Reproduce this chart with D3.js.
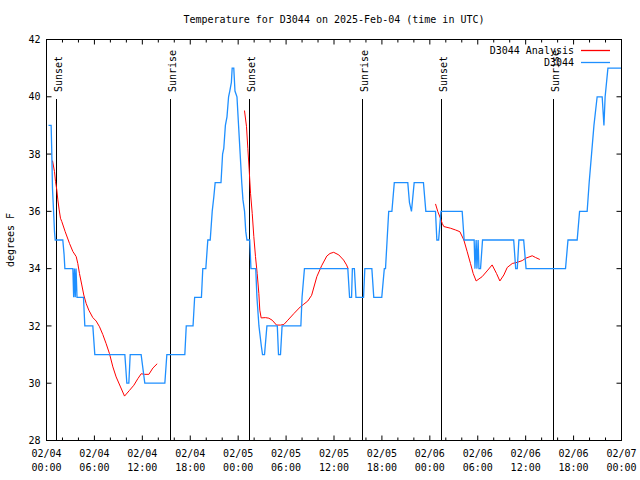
<!DOCTYPE html>
<html><head><meta charset="utf-8">
<script src="https://cdn.jsdelivr.net/npm/d3@7"></script>
<style>
html,body{margin:0;padding:0;background:#fff;}
text{font-family:"DejaVu Sans Mono","Liberation Mono",monospace;font-size:10px;fill:#000;}
</style></head>
<body><svg id="c" width="640" height="480"></svg>
<script>
// ---- data (hours since 2025-02-04 00:00 UTC) ----
const titleText = "Temperature for D3044 on 2025-Feb-04 (time in UTC)";
const yLabel = "degrees F";
const seriesNames = ["D3044 Analysis", "D3044"];
const yTicks = [28, 30, 32, 34, 36, 38, 40, 42];
const xMajorHours = [0, 6, 12, 18, 24, 30, 36, 42, 48, 54, 60, 66, 72];
const xTickDates = ["02/04","02/04","02/04","02/04","02/05","02/05","02/05","02/05","02/06","02/06","02/06","02/06","02/07"];
const xTickTimes = ["00:00","06:00","12:00","18:00","00:00","06:00","12:00","18:00","00:00","06:00","12:00","18:00","00:00"];
const sunHours = [1.29, 15.57, 25.36, 39.61, 49.42, 63.51];
const sunLabels = ["Sunset", "Sunrise", "Sunset", "Sunrise", "Sunset", "Sunrise"];

const obsHours = [0.25,0.58,0.65,0.75,0.92,1.0,1.09,2.04,2.2,2.3,3.30,3.40,3.50,3.60,3.70,3.82,4.63,4.8,5.8,6.05,9.81,10.06,10.31,10.48,11.85,12.31,14.82,15.07,17.32,17.5,18.35,18.55,19.4,19.57,19.95,20.2,20.5,20.75,20.95,21.12,21.85,22.05,22.2,22.4,22.6,22.8,22.95,23.15,23.25,23.45,23.6,23.85,24.05,24.25,24.45,24.6,24.8,24.95,25.1,25.45,25.6,26.2,26.35,26.6,26.9,27.05,27.3,27.6,28.9,29.05,29.3,29.5,31.85,32.0,32.3,37.73,37.95,38.2,38.3,38.55,38.75,39.7,39.86,40.74,40.98,41.98,42.3,42.45,42.65,42.85,43.25,43.55,45.24,45.45,45.7,46.04,47.2,47.5,48.71,48.88,49.1,49.4,52.05,52.3,53.55,53.65,53.8,53.9,54.05,54.15,54.35,54.6,58.5,58.75,58.95,59.15,59.75,60.05,64.99,65.3,66.45,66.75,67.7,67.95,68.25,68.55,68.95,69.58,69.8,69.95,70.3,72];
const obsTemps = [39,39,38.2,36.8,35.8,35.3,35,35,34.5,34,34,33,34,33,34,33,33,32,32,31,31,30,30,31,31,30,30,31,31,32,32,33,33,34,34,35,35,36,36.5,37,37,38,38.2,39,39.3,40,40.2,40.5,41,41,40.2,40,39,38,37,36.4,36,35.3,35,35,34,34,33,32,31.3,31,31,32,32,31,31,32,32,33,34,34,33,33,34,34,33,33,34,34,33,33,34,34,35,36,36,37,37,36.3,36,37,37,36,36,35,35,36,36,35,35,34,35,34,35,34,34,35,35,34,34,35,35,34,34,35,35,36,36,37,38,39,40,40,39,40,41,41];

// analysis runs, null separates runs
const anaHours = [0.75,1.0,1.13,1.29,1.42,1.59,1.75,1.92,2.34,2.88,3.3,3.72,3.92,4.13,4.42,4.67,4.97,5.3,5.8,6.22,6.64,7.05,7.47,7.89,8.31,8.72,9.27,9.77,10.39,10.94,11.44,11.86,12.27,12.82,13.32,13.86,
  null,
  24.79,25.04,25.21,25.38,25.55,25.76,25.96,26.17,26.38,26.59,26.71,26.88,27.42,27.84,28.26,28.8,29.3,29.72,30.22,30.97,31.8,32.22,32.72,33.2,33.85,34.45,35.1,35.5,35.96,36.6,37.2,37.57,37.77,
  null,
  48.71,49.0,49.34,49.55,49.75,50.6,51.22,51.76,52.26,52.68,53.09,53.43,53.8,54.55,55.26,55.8,56.35,56.77,57.27,57.69,58.32,58.94,59.57,59.98,60.82,61.23,61.77];
const anaTemps = [37.77,37.39,37.04,36.75,36.4,36.05,35.76,35.64,35.29,34.88,34.6,34.42,34.18,33.83,33.43,33.08,32.78,32.55,32.29,32.17,31.97,31.7,31.38,31.03,30.57,30.22,29.87,29.55,29.75,29.93,30.16,30.33,30.31,30.31,30.53,30.68,
  null,
  39.52,38.97,38.2,37.45,36.63,35.93,35.12,34.42,33.83,33.13,32.55,32.28,32.29,32.27,32.2,32.03,32.03,32.05,32.2,32.43,32.67,32.76,32.87,33.07,33.72,34.1,34.44,34.53,34.57,34.48,34.3,34.13,34.0,
  null,
  36.26,35.99,35.75,35.58,35.47,35.41,35.35,35.29,35.0,34.59,34.18,33.83,33.57,33.72,33.95,34.13,33.83,33.57,33.78,34.04,34.18,34.22,34.28,34.36,34.45,34.39,34.32];

const colors = {ana: "#ff0000", obs: "#1e8fff"};

// ---- chart ----
const svg = d3.select("#c");
const L = 46.5, R = 621.5, T = 39.5, B = 440.5;
const x = d3.scaleLinear().domain([0, 72]).range([L, R]);
const y = d3.scaleLinear().domain([28, 42]).range([B, T]);
const xMinor = d3.range(0, 73, 2).filter(h => h % 6 !== 0);

// title
svg.append("text").attr("x", 334).attr("y", 23).attr("text-anchor", "middle").text(titleText);

// y label
svg.append("text").attr("transform", "translate(14,240) rotate(-90)").attr("text-anchor", "middle").text(yLabel);

// axes
function clean(g){ g.select(".domain").remove(); g.selectAll("line").attr("stroke", "#000"); }
svg.append("g").attr("transform", `translate(0,${B})`)
  .call(d3.axisBottom(x).tickValues(xMajorHours).tickSize(-5).tickFormat("").offset(0)).call(clean);
svg.append("g").attr("transform", `translate(0,${B})`)
  .call(d3.axisBottom(x).tickValues(xMinor).tickSize(-3).tickFormat("").offset(0)).call(clean);
svg.append("g").attr("transform", `translate(0,${T})`)
  .call(d3.axisTop(x).tickValues(xMajorHours).tickSize(-5).tickFormat("").offset(0)).call(clean);
svg.append("g").attr("transform", `translate(0,${T})`)
  .call(d3.axisTop(x).tickValues(xMinor).tickSize(-3).tickFormat("").offset(0)).call(clean);
const yl = svg.append("g").attr("transform", `translate(${L},0)`)
  .call(d3.axisLeft(y).tickValues(yTicks).tickSize(-5).tickPadding(6).offset(0)).call(clean);
yl.selectAll("text").attr("font-size", null).attr("font-family", null).attr("dy", "0.36em");
yl.attr("font-size", null).attr("font-family", null);
svg.append("g").attr("transform", `translate(${R},0)`)
  .call(d3.axisRight(y).tickValues(yTicks).tickSize(-5).tickFormat("").offset(0)).call(clean);

// x labels (two lines)
const xl = svg.append("g");
xMajorHours.forEach((h, i) => {
  const t = xl.append("text").attr("text-anchor", "middle");
  t.append("tspan").attr("x", x(h)).attr("y", 457).text(xTickDates[i]);
  t.append("tspan").attr("x", x(h)).attr("y", 471).text(xTickTimes[i]);
});

// sun lines
const sun = svg.append("g");
sunHours.forEach((h, i) => {
  const sx = Math.round(x(h) - 0.5) + 0.5;
  sun.append("line").attr("x1", sx).attr("x2", sx).attr("y1", 99).attr("y2", B)
    .attr("stroke", "#000").attr("stroke-width", 1);
  sun.append("text").attr("transform", `translate(${sx + 5.5},92) rotate(-90)`)
    .attr("text-anchor", "start").text(sunLabels[i]);
});

// series
const obsData = obsHours.map((h, i) => [h, obsTemps[i]]);
const anaData = anaHours.map((h, i) => [h, anaTemps[i]]);
const line = d3.line().defined(d => d[0] !== null && d[1] !== null).x(d => x(d[0])).y(d => y(d[1]));
svg.append("path").datum(anaData).attr("d", line).attr("fill", "none")
  .attr("stroke", colors.ana).attr("stroke-width", 1);
svg.append("path").datum(obsData).attr("d", line).attr("fill", "none")
  .attr("stroke", colors.obs).attr("stroke-width", 1.3);

// legend
const leg = svg.append("g");
[[seriesNames[0], colors.ana, 50.5], [seriesNames[1], colors.obs, 62.5]].forEach(([name, col, ly]) => {
  leg.append("text").attr("x", 574).attr("y", ly + 3.8).attr("text-anchor", "end").text(name);
  leg.append("line").attr("x1", 581).attr("x2", 610).attr("y1", ly).attr("y2", ly)
    .attr("stroke", col).attr("stroke-width", 1.3);
});

// border
svg.append("rect").attr("x", L).attr("y", T).attr("width", R - L).attr("height", B - T)
  .attr("fill", "none").attr("stroke", "#000").attr("stroke-width", 1);
</script></body></html>
